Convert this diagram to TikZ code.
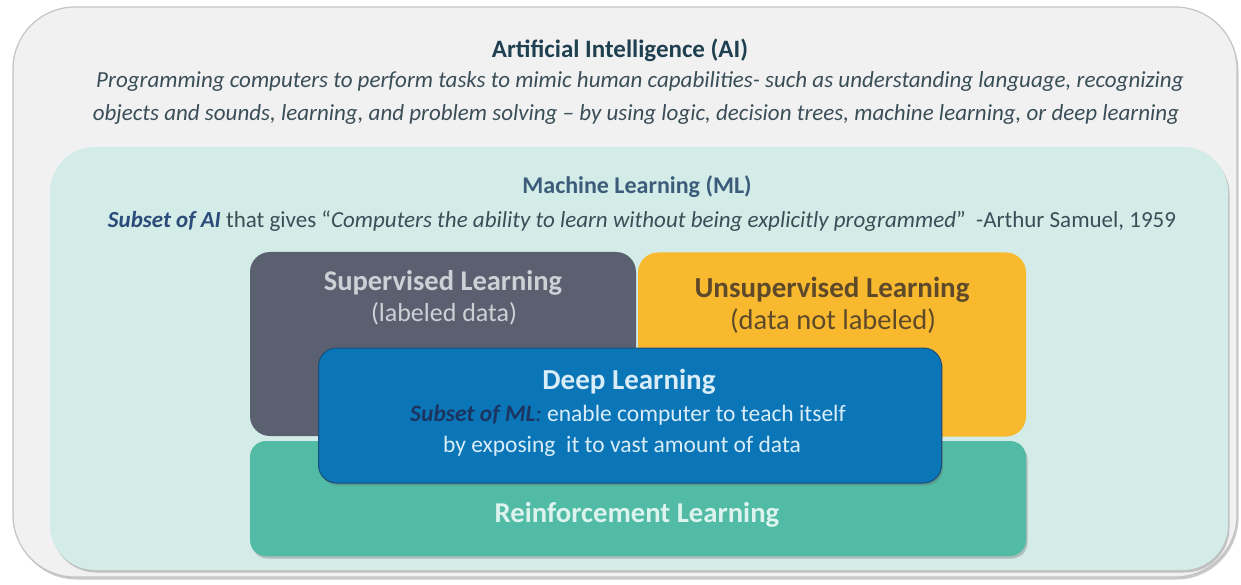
\documentclass[tikz,border=0pt]{standalone}
\usepackage{fontspec}
\setmainfont{Carlito}
\usetikzlibrary{shadows}
\definecolor{aifill}{HTML}{F1F1F1}
\definecolor{aiedge}{HTML}{C4C4C4}
\definecolor{mlfill}{HTML}{D3ECE7}
\definecolor{aititle}{HTML}{1F4050}
\definecolor{aitext}{HTML}{3A4E58}
\definecolor{mltitle}{HTML}{3B5C7A}
\definecolor{mlsub}{HTML}{2B4B7A}
\definecolor{slfill}{HTML}{5B6071}
\definecolor{sltext}{HTML}{CDD1D6}
\definecolor{ulfill}{HTML}{F8B92E}
\definecolor{ultext}{HTML}{5E4A2A}
\definecolor{dlfill}{HTML}{0A76B8}
\definecolor{dledge}{HTML}{1A4E78}
\definecolor{dltext}{HTML}{D9ECF7}
\definecolor{dlsub}{HTML}{1B3560}
\definecolor{rlfill}{HTML}{51BBA6}
\definecolor{rltext}{HTML}{DDF3EE}
\tikzset{
  panel/.style={rectangle, inner sep=0pt, outer sep=0pt},
  shad/.style={drop shadow={shadow xshift=1.5pt, shadow yshift=-2.5pt, opacity=0.35, fill=black!60}},
  txt/.style={inner sep=0pt, outer sep=0pt, align=center}
}
\begin{document}
\begin{tikzpicture}[x=1pt,y=-1pt]
\useasboundingbox (0,0) rectangle (1241,585);
\fill[white] (0,0) rectangle (1241,585);
% AI box
\node[panel, draw=aiedge, line width=1.2pt, fill=aifill, rounded corners=62pt, shad,
      minimum width=1224pt, minimum height=570pt] (ai) at (625,292) {};
% ML box
\node[panel, fill=mlfill, rounded corners=45pt, shad,
      minimum width=1178pt, minimum height=423pt] (ml) at (639,358.5) {};
% Supervised
\node[panel, fill=slfill, rounded corners=20pt,
      minimum width=386pt, minimum height=184pt] (sl) at (443,344) {};
% Unsupervised
\node[panel, fill=ulfill, rounded corners=20pt,
      minimum width=388pt, minimum height=184pt] (ul) at (832,344.5) {};
% Reinforcement
\node[panel, fill=rlfill, rounded corners=16pt, shad,
      minimum width=776pt, minimum height=115pt] (rl) at (638,498.5) {};
% Deep learning
\node[panel, fill=dlfill, draw=dledge, line width=1pt, rounded corners=18pt, shad,
      minimum width=623pt, minimum height=135pt] (dl) at (630,415.5) {};

% Texts
\node[txt, font=\fontsize{25}{30}\selectfont\bfseries, text=aititle] (aiT) at (620,50) {Artificial Intelligence (AI)};
\node[txt, font=\fontsize{23}{27}\selectfont\itshape, text=aitext] (aiL1) at (640,81) {Programming computers to perform tasks to mimic human capabilities- such as understanding language, recognizing};
\node[txt, font=\fontsize{23}{27}\selectfont\itshape, text=aitext] (aiL2) at (636,114) {objects and sounds, learning, and problem solving -- by using logic, decision trees, machine learning, or deep learning};

\node[txt, font=\fontsize{24}{28}\selectfont\bfseries, text=mltitle] (mlT) at (637,187) {Machine Learning (ML)};
\node[txt, font=\fontsize{23}{27}\selectfont, text=aitext] (mlL) at (642,221) {\textcolor{mlsub}{\bfseries\itshape Subset of AI} that gives ``\textit{Computers the ability to learn without being explicitly programmed}''~~-Arthur Samuel, 1959};

\node[txt, font=\fontsize{28.5}{32}\selectfont\bfseries, text=sltext] (slT) at (443,283) {Supervised Learning};
\node[txt, font=\fontsize{26}{30}\selectfont, text=sltext] (slS) at (444,314) {(labeled data)};

\node[txt, font=\fontsize{29}{33}\selectfont\bfseries, text=ultext] (ulT) at (832,290) {Unsupervised Learning};
\node[txt, font=\fontsize{28.5}{32}\selectfont, text=ultext] (ulS) at (833,321) {(data not labeled)};

\node[txt, font=\fontsize{29}{33}\selectfont\bfseries, text=dltext] (dlT) at (629,382) {Deep Learning};
\node[txt, font=\fontsize{23.5}{27}\selectfont, text=dltext] (dlL1) at (628,415) {\textcolor{dlsub}{\bfseries\itshape Subset of ML}\textcolor{dlsub}{\itshape :} enable computer to teach itself};
\node[txt, font=\fontsize{23.5}{27}\selectfont, text=dltext] (dlL2) at (622,446) {by exposing~~it to vast amount of data};

\node[txt, font=\fontsize{28.7}{33}\selectfont\bfseries, text=rltext] (rlT) at (637,515) {Reinforcement Learning};
\end{tikzpicture}
\end{document}
